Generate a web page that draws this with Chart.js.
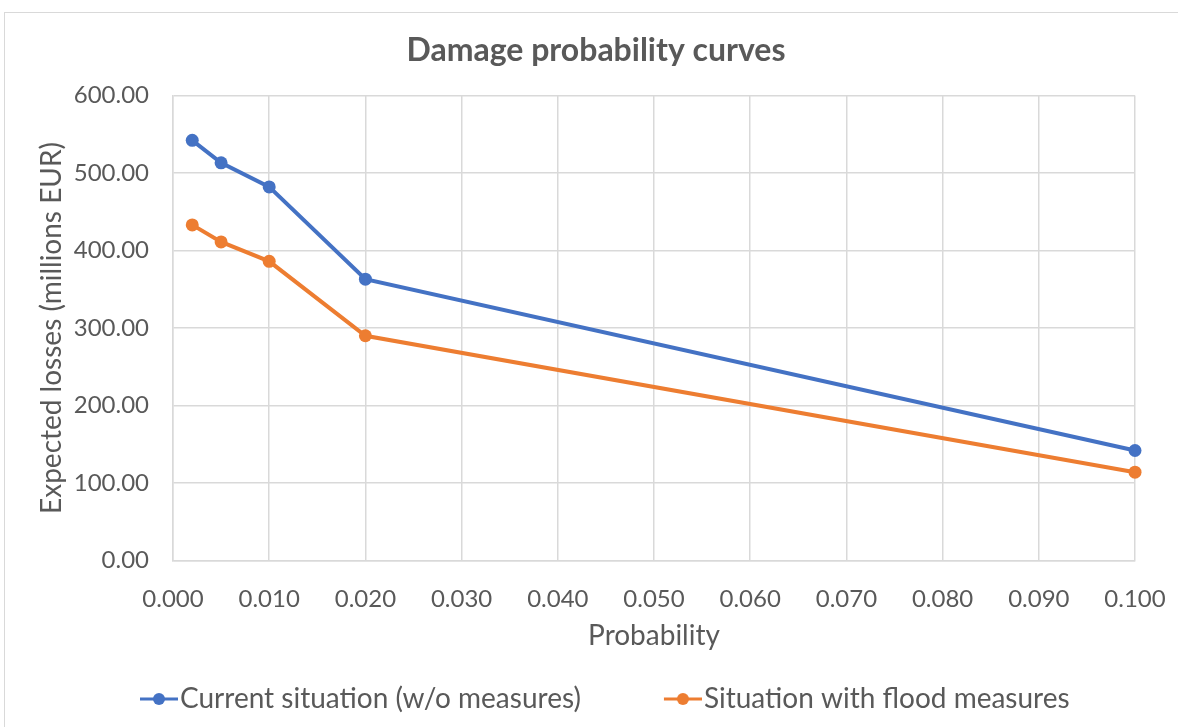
<!DOCTYPE html>
<html>
<head>
<meta charset="utf-8">
<script src="https://cdn.jsdelivr.net/npm/chart.js@4.4.1/dist/chart.umd.min.js"></script>
<style>
  html, body { margin: 0; padding: 0; background: #fff; }
  #wrap { width: 1178px; height: 727px; position: relative; }
</style>
</head>
<body>
<div id="wrap"><canvas id="chart" width="1178" height="727"></canvas></div>
<script>
// values
const probabilities = [0.002, 0.005, 0.01, 0.02, 0.1];
const currentLosses = [542, 513, 482, 363, 142];
const measuresLosses = [433, 411, 386, 290, 114];
const seriesNames = ["Current situation (w/o measures)", "Situation with flood measures"];

const BLUE = "#4472c4";
const ORANGE = "#ed7d31";
const TEXT = "#595959";
const GRID = "#d9d9d9";
const FONT = "Lato, 'Open Sans', sans-serif";

// legend marker: line with a dot, drawn at the right end of a wide box so it
// sits just before the label text (box is 90 wide, image is centred on it)
function legendMarker(color) {
  const c = document.createElement("canvas");
  c.width = 114;
  c.height = 16;
  const g = c.getContext("2d");
  g.strokeStyle = color;
  g.lineWidth = 3;
  g.beginPath();
  g.moveTo(76, 8);
  g.lineTo(114, 8);
  g.stroke();
  g.fillStyle = color;
  g.beginPath();
  g.arc(95, 8, 6, 0, Math.PI * 2);
  g.fill();
  return c;
}

const toPoints = (vals) => vals.map((v, i) => ({ x: probabilities[i], y: v }));

// light frame round the whole chart
const frame = {
  id: "frame",
  beforeDraw(chart) {
    const ctx = chart.ctx;
    ctx.save();
    ctx.fillStyle = "#fff";
    ctx.fillRect(0, 0, chart.width, chart.height);
    ctx.strokeStyle = GRID;
    ctx.lineWidth = 1;
    ctx.strokeRect(4.5, 12.5, chart.width + 10, chart.height + 10);
    ctx.restore();
  }
};

function series(label, vals, color) {
  return {
    label: label,
    data: toPoints(vals),
    borderColor: color,
    backgroundColor: color,
    borderWidth: 4,
    pointRadius: 6.5,
    pointHoverRadius: 6.5,
    pointBorderWidth: 0,
    tension: 0,
    clip: false,
    markerImg: legendMarker(color)
  };
}

new Chart(document.getElementById("chart"), {
  type: "line",
  data: {
    datasets: [
      series(seriesNames[0], currentLosses, BLUE),
      series(seriesNames[1], measuresLosses, ORANGE)
    ]
  },
  options: {
    responsive: false,
    animation: false,
    layout: { padding: { left: 57, right: 43, top: 0, bottom: 4 } },
    plugins: {
      title: {
        display: true,
        text: "Damage probability curves",
        color: TEXT,
        font: { family: FONT, size: 32, weight: "bold" },
        padding: { top: 31, bottom: 26 }
      },
      legend: {
        position: "bottom",
        align: "start",
        labels: {
          color: TEXT,
          font: { family: FONT, size: 28 },
          usePointStyle: true,
          pointStyleWidth: 90,
          padding: 19,
          generateLabels(chart) {
            return chart.data.datasets.map((ds, i) => ({
              text: ds.label,
              fillStyle: ds.borderColor,
              strokeStyle: ds.borderColor,
              pointStyle: ds.markerImg,
              fontColor: TEXT,
              lineWidth: 0,
              datasetIndex: i
            }));
          }
        }
      },
      tooltip: { enabled: false }
    },
    scales: {
      x: {
        type: "linear",
        min: 0,
        max: 0.1,
        ticks: {
          stepSize: 0.01,
          color: TEXT,
          font: { family: FONT, size: 24 },
          padding: 12,
          maxRotation: 0,
          callback: (v) => v.toFixed(3)
        },
        grid: { color: GRID, lineWidth: 1.5, drawTicks: true, tickLength: 12, tickColor: "rgba(0,0,0,0)" },
        border: { color: GRID, width: 1.5 },
        title: {
          display: true,
          text: "Probability",
          color: TEXT,
          font: { family: FONT, size: 28 },
          padding: { top: -6, bottom: 13 }
        }
      },
      y: {
        min: 0,
        max: 600,
        afterFit(scale) { scale.width = 116; },
        ticks: {
          stepSize: 100,
          color: TEXT,
          font: { family: FONT, size: 24 },
          padding: 24,
          callback: (v) => v.toFixed(2)
        },
        grid: { color: GRID, lineWidth: 1.5, drawTicks: false },
        border: { color: GRID, width: 1.5 },
        title: {
          display: true,
          text: "Expected losses (millions EUR)",
          color: TEXT,
          font: { family: FONT, size: 28 },
          padding: { top: -22, bottom: 0 }
        }
      }
    }
  },
  plugins: [frame]
});
</script>
</body>
</html>
